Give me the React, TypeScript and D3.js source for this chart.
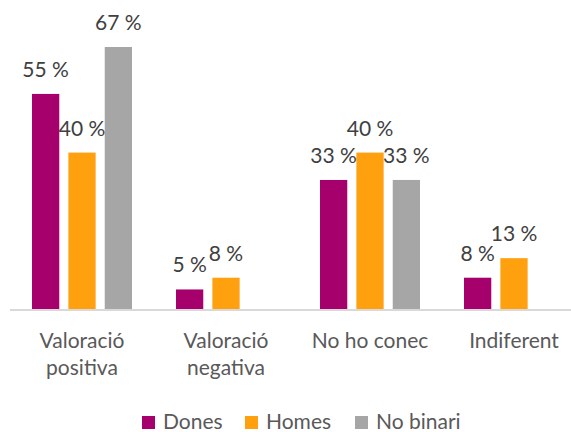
import { useEffect, useRef } from "react";
import * as d3 from "d3";

const categories = ["Valoració positiva", "Valoració negativa", "No ho conec", "Indiferent"];
const seriesNames = ["Dones", "Homes", "No binari"];
const dones = [55, 5, 33, 8];
const homes = [40, 8, 40, 13];
const noBinari = [67, null, 33, null];
const colors = ["#A5006B", "#FFA00F", "#A6A6A6"];

const width = 571;
const height = 432;
const font = "Lato, 'Open Sans', sans-serif";

export default function App() {
  const svgRef = useRef<SVGSVGElement>(null);

  useEffect(() => {
    if (!svgRef.current) return;
    const svg = d3.select(svgRef.current);
    svg.selectAll("*").remove();

    const series = [dones, homes, noBinari];
    const baseline = 309;

    const x0 = d3.scaleBand<string>().domain(categories).range([10, 586]).paddingInner(0).paddingOuter(0);
    const x1 = d3
      .scaleBand<string>()
      .domain(seriesNames)
      .range([22, x0.bandwidth() - 22])
      .paddingInner(0.25)
      .paddingOuter(0);
    const y = d3.scaleLinear().domain([0, 67]).range([baseline, 47]);

    const groups = svg
      .selectAll(".grp")
      .data(categories)
      .enter()
      .append("g")
      .attr("class", "grp")
      .attr("transform", (c) => `translate(${x0(c)},0)`);

    groups.each(function (_c, ci) {
      const g = d3.select(this);
      seriesNames.forEach((s, si) => {
        const v = series[si][ci];
        if (v == null) return;
        g.append("rect")
          .attr("x", x1(s)!)
          .attr("y", y(v))
          .attr("width", x1.bandwidth())
          .attr("height", baseline - y(v))
          .attr("fill", colors[si]);
      });
    });

    // axis line
    svg
      .append("line")
      .attr("x1", 10)
      .attr("x2", width)
      .attr("y1", baseline + 1)
      .attr("y2", baseline + 1)
      .attr("stroke", "#D9D9D9")
      .attr("stroke-width", 2);

    // data labels
    groups.each(function (_c, ci) {
      const g = d3.select(this);
      seriesNames.forEach((s, si) => {
        const v = series[si][ci];
        if (v == null) return;
        g.append("text")
          .attr("x", x1(s)! + x1.bandwidth() / 2)
          .attr("y", y(v) - 17)
          .attr("text-anchor", "middle")
          .style("font-family", font)
          .style("font-size", "21px")
          .style("fill", "#404040")
          .text(`${v} %`);
      });
    });

    // category labels
    groups.each(function (c) {
      const g = d3.select(this);
      const words = c === "No ho conec" || c === "Indiferent" ? [c] : c.split(" ");
      words.forEach((w, i) => {
        g.append("text")
          .attr("x", x0.bandwidth() / 2)
          .attr("y", 348 + i * 27)
          .attr("text-anchor", "middle")
          .style("font-family", font)
          .style("font-size", "21px")
          .style("fill", "#595959")
          .text(w);
      });
    });

    // legend
    const legendX = [142, 245, 355];
    seriesNames.forEach((s, i) => {
      const lg = svg.append("g").attr("transform", `translate(${legendX[i]},416)`);
      lg.append("rect").attr("width", 13).attr("height", 13).attr("fill", colors[i]);
      lg.append("text")
        .attr("x", 21)
        .attr("y", 13)
        .style("font-family", font)
        .style("font-size", "21px")
        .style("fill", "#595959")
        .text(s);
    });
  }, []);

  return (
    <svg
      ref={svgRef}
      width={width}
      height={height}
      viewBox={`0 0 ${width} ${height}`}
      style={{ position: "absolute", left: 0, top: 0, background: "#fff" }}
    />
  );
}
